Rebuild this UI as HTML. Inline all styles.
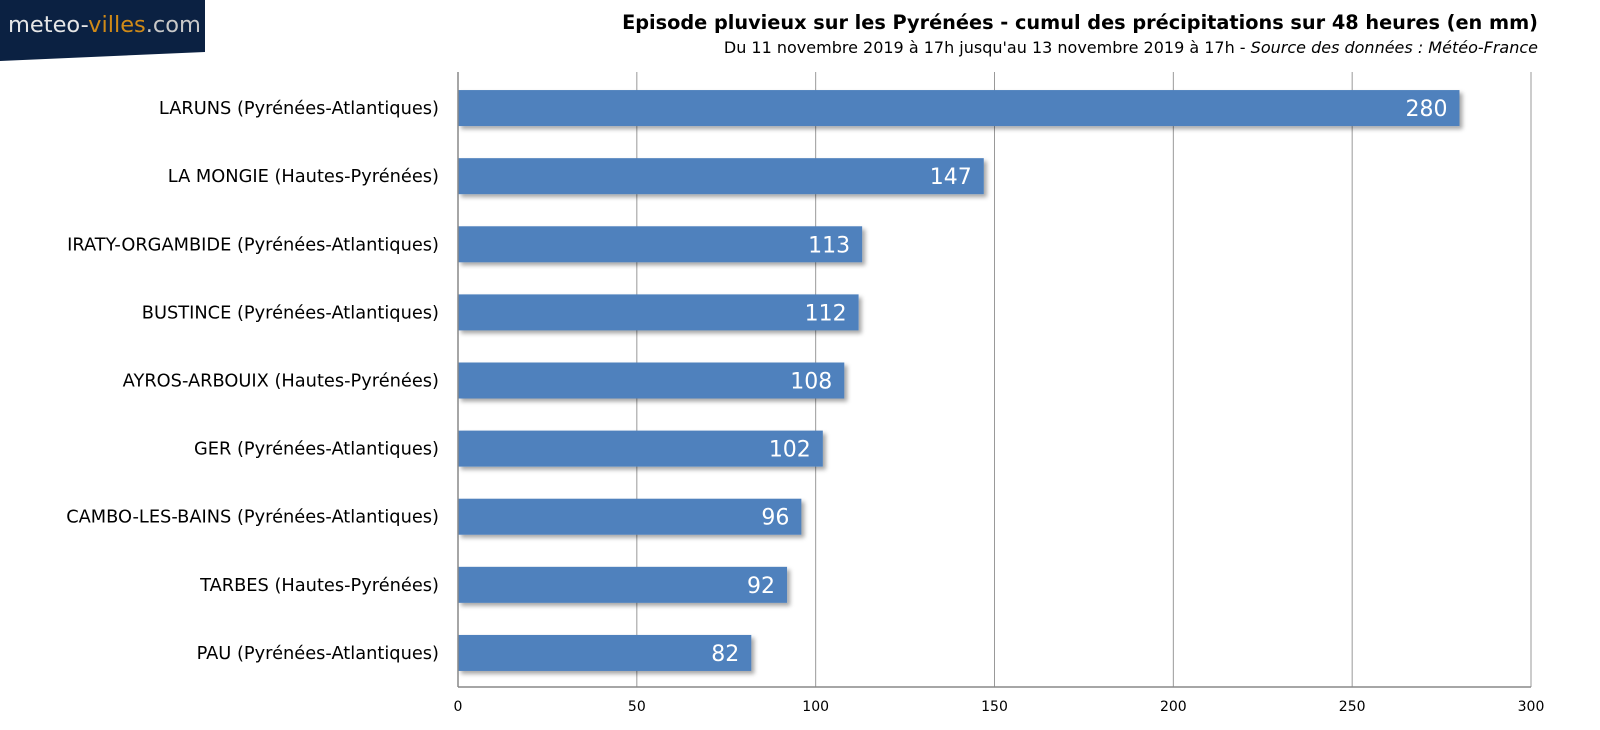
<!DOCTYPE html>
<html><head><meta charset="utf-8"><style>
body{margin:0;background:#fff;font-family:"DejaVu Sans","Liberation Sans",sans-serif;}
svg{display:block}
</style></head><body>
<svg width="1600" height="730" xmlns="http://www.w3.org/2000/svg">
<defs><filter id="sh" x="-5%" y="-20%" width="110%" height="150%"><feDropShadow dx="3" dy="3" stdDeviation="2" flood-color="#000" flood-opacity="0.35"/></filter></defs>
<g>
<polygon points="0,0 205,0 205,52 0,61" fill="#0b2142"/>
<text x="8" y="32" font-size="22.5" fill="#e6e6e6" font-family="'DejaVu Sans',sans-serif">meteo-<tspan fill="#d08a17">villes</tspan><tspan fill="#c8c8c8">.com</tspan></text>
</g>
<text x="1538" y="29" text-anchor="end" font-size="19.3" font-weight="bold" fill="#000">Episode pluvieux sur les Pyrénées - cumul des précipitations sur 48 heures (en mm)</text>
<text x="1538" y="53" text-anchor="end" font-size="16" fill="#000">Du 11 novembre 2019 à 17h jusqu'au 13 novembre 2019 à 17h - <tspan font-style="italic">Source des données : Météo-France</tspan></text>
<g id="grid"></g><g id="bars"></g><g id="axes"></g>
</svg>
<script>
const categories=["LARUNS (Pyrénées-Atlantiques)","LA MONGIE (Hautes-Pyrénées)","IRATY-ORGAMBIDE (Pyrénées-Atlantiques)","BUSTINCE (Pyrénées-Atlantiques)","AYROS-ARBOUIX (Hautes-Pyrénées)","GER (Pyrénées-Atlantiques)","CAMBO-LES-BAINS (Pyrénées-Atlantiques)","TARBES (Hautes-Pyrénées)","PAU (Pyrénées-Atlantiques)"];
const values=[280,147,113,112,108,102,96,92,82];
const ticks=[0,50,100,150,200,250,300];
const NS="http://www.w3.org/2000/svg";
const X0=458,X1=1531,Y0=74,Y1=687,MAX=300;
const xs=v=>X0+(X1-X0)*v/MAX;
const band=(Y1-Y0)/categories.length;
const yc=i=>Y0+band*(i+0.5);
function mk(t,a,p){const e=document.createElementNS(NS,t);for(const k in a)e.setAttribute(k,a[k]);p.appendChild(e);return e;}
const grid=document.getElementById('grid'),bars=document.getElementById('bars'),axes=document.getElementById('axes');
ticks.forEach(t=>{
 const l=mk('line',{x1:xs(t),x2:xs(t),y1:Y0-2,y2:Y1,stroke:'#999','stroke-width':1},grid);
 
 
 const tx=mk('text',{x:xs(t),y:Y1+24,'text-anchor':'middle','font-size':14,fill:'#000'},axes);
 tx.textContent=t;
 
 
});
const ax=mk('line',{x1:X0,x2:X1,y1:Y1,y2:Y1,stroke:'#888','stroke-width':1.5},axes);


const ay=mk('line',{x1:X0,x2:X0,y1:Y0-2,y2:Y1,stroke:'#888','stroke-width':1.5},axes);


categories.forEach((c,i)=>{
 const y=yc(i),h=36;
 const r=mk('rect',{x:X0,y:y-h/2,width:xs(values[i])-X0,height:h,fill:'#4f81bd',filter:'url(#sh)'},bars);
 
 
 const v=mk('text',{x:xs(values[i])-12,y:y+8,'text-anchor':'end','font-size':22,fill:'#fff'},bars);
 v.textContent=values[i];
 
 
 const l=mk('text',{x:X0-19,y:y+6,'text-anchor':'end','font-size':17.8,fill:'#000'},axes);
 l.textContent=c;
 
 
});
</script>
</body></html>
